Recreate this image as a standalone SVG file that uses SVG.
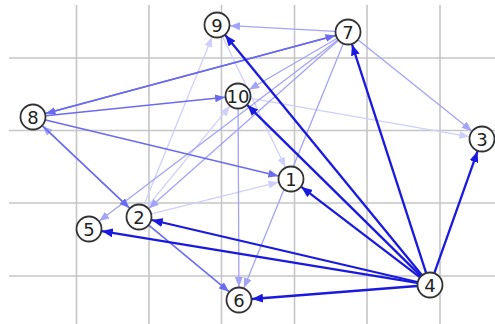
<svg xmlns="http://www.w3.org/2000/svg" width="495" height="324" viewBox="0 0 495 324">
<style>
.grid line{stroke:#c6c6c6;stroke-width:1.6}
.e{fill:none}
.d{stroke:#1a1ade;stroke-width:2.3;marker-end:url(#ad)}
.m{stroke:#6b6bf0;stroke-width:1.6;marker-end:url(#am)}
.l{stroke:#a3a3f8;stroke-width:1.3;marker-end:url(#al)}
.v{stroke:#cfcffc;stroke-width:1.3;marker-end:url(#av)}
.node circle{fill:#fff;stroke:#333;stroke-width:1.8}
.node text{font-family:"DejaVu Sans",sans-serif;font-size:18px;fill:#222;text-anchor:middle}
</style>
<defs>
<marker id="ad" markerUnits="userSpaceOnUse" markerWidth="11" markerHeight="9" refX="11" refY="4.5" orient="auto"><path d="M0,0 L11,4.5 L0,9 z" fill="#1a1ade"/></marker>
<marker id="am" markerUnits="userSpaceOnUse" markerWidth="10" markerHeight="8" refX="10" refY="4" orient="auto"><path d="M0,0 L10,4 L0,8 z" fill="#6b6bf0"/></marker>
<marker id="al" markerUnits="userSpaceOnUse" markerWidth="10" markerHeight="8" refX="10" refY="4" orient="auto"><path d="M0,0 L10,4 L0,8 z" fill="#a3a3f8"/></marker>
<marker id="av" markerUnits="userSpaceOnUse" markerWidth="10" markerHeight="8" refX="10" refY="4" orient="auto"><path d="M0,0 L10,4 L0,8 z" fill="#cfcffc"/></marker>
</defs>
<rect width="495" height="324" fill="#fff"/>
<g class="grid">
<line x1="76.5" y1="5" x2="76.5" y2="324"/>
<line x1="149" y1="5" x2="149" y2="324"/>
<line x1="221.5" y1="5" x2="221.5" y2="324"/>
<line x1="294.5" y1="5" x2="294.5" y2="324"/>
<line x1="367" y1="5" x2="367" y2="324"/>
<line x1="440" y1="5" x2="440" y2="324"/>
<line x1="9" y1="58" x2="495" y2="58"/>
<line x1="9" y1="130.5" x2="495" y2="130.5"/>
<line x1="9" y1="203" x2="495" y2="203"/>
<line x1="9" y1="276" x2="495" y2="276"/>
</g>
<g id="connectors" class="e">
<line class="v" x1="250.8" y1="98.3" x2="469.2" y2="136.7"/>
<line class="v" x1="143.9" y1="205" x2="212.1" y2="37"/>
<line class="v" x1="222.6" y1="36.7" x2="285.4" y2="167.3"/>
<line class="v" x1="151.6" y1="213.8" x2="278.4" y2="182.2"/>
<line class="v" x1="147.2" y1="206.9" x2="229.8" y2="106.1"/>
<line class="l" x1="129.5" y1="208.1" x2="42.5" y2="125.9"/>
<line class="l" x1="335" y1="31.3" x2="230" y2="25.7"/>
<line class="l" x1="358.2" y1="40.1" x2="471.8" y2="130.9"/>
<line class="l" x1="336.8" y1="38.5" x2="249.2" y2="89.5"/>
<line class="l" x1="338.3" y1="40.6" x2="148.7" y2="208.4"/>
<line class="l" x1="337.7" y1="39.9" x2="99.3" y2="221.1"/>
<line class="l" x1="343.1" y1="44" x2="243.9" y2="288"/>
<line class="l" x1="238.1" y1="109" x2="238.9" y2="287"/>
<line class="m" x1="149" y1="225.3" x2="229" y2="291.7"/>
<line class="m" x1="45.9" y1="115.7" x2="225.1" y2="97.3"/>
<line class="m" x1="335.5" y1="35.4" x2="45.5" y2="113.6"/>
<line class="m" x1="45.5" y1="113.6" x2="335.5" y2="35.4"/>
<line class="m" x1="42.5" y1="125.9" x2="129.5" y2="208.1"/>
<line class="m" x1="45.6" y1="120" x2="278.4" y2="176"/>
<line class="d" x1="421.8" y1="274.9" x2="225.2" y2="35.1"/>
<line class="d" x1="426" y1="272.6" x2="352" y2="44.4"/>
<line class="d" x1="434.4" y1="272.8" x2="477.6" y2="151.2"/>
<line class="d" x1="420.7" y1="275.9" x2="247.3" y2="105.1"/>
<line class="d" x1="419.7" y1="277.1" x2="301.3" y2="186.9"/>
<line class="d" x1="417.3" y1="282" x2="151.7" y2="220"/>
<line class="d" x1="417.2" y1="282.9" x2="101.8" y2="231.1"/>
<line class="d" x1="417" y1="286" x2="252" y2="299"/>
</g>
<g id="n1" class="node"><circle cx="291" cy="179" r="12.5"/><text x="291" y="185.5">1</text></g>
<g id="n2" class="node"><circle cx="139" cy="217" r="12.5"/><text x="139" y="223.5">2</text></g>
<g id="n3" class="node"><circle cx="482" cy="139" r="12.5"/><text x="482" y="145.5">3</text></g>
<g id="n4" class="node"><circle cx="430" cy="285" r="12.5"/><text x="430" y="291.5">4</text></g>
<g id="n5" class="node"><circle cx="89" cy="229" r="12.5"/><text x="89" y="235.5">5</text></g>
<g id="n6" class="node"><circle cx="239" cy="300" r="12.5"/><text x="239" y="306.5">6</text></g>
<g id="n7" class="node"><circle cx="348" cy="32" r="12.5"/><text x="348" y="38.5">7</text></g>
<g id="n8" class="node"><circle cx="33" cy="117" r="12.5"/><text x="33" y="123.5">8</text></g>
<g id="n9" class="node"><circle cx="217" cy="25" r="12.5"/><text x="217" y="31.5">9</text></g>
<g id="n10" class="node"><circle cx="238" cy="96" r="12.5"/><text x="238" y="102.5">10</text></g>
</svg>
